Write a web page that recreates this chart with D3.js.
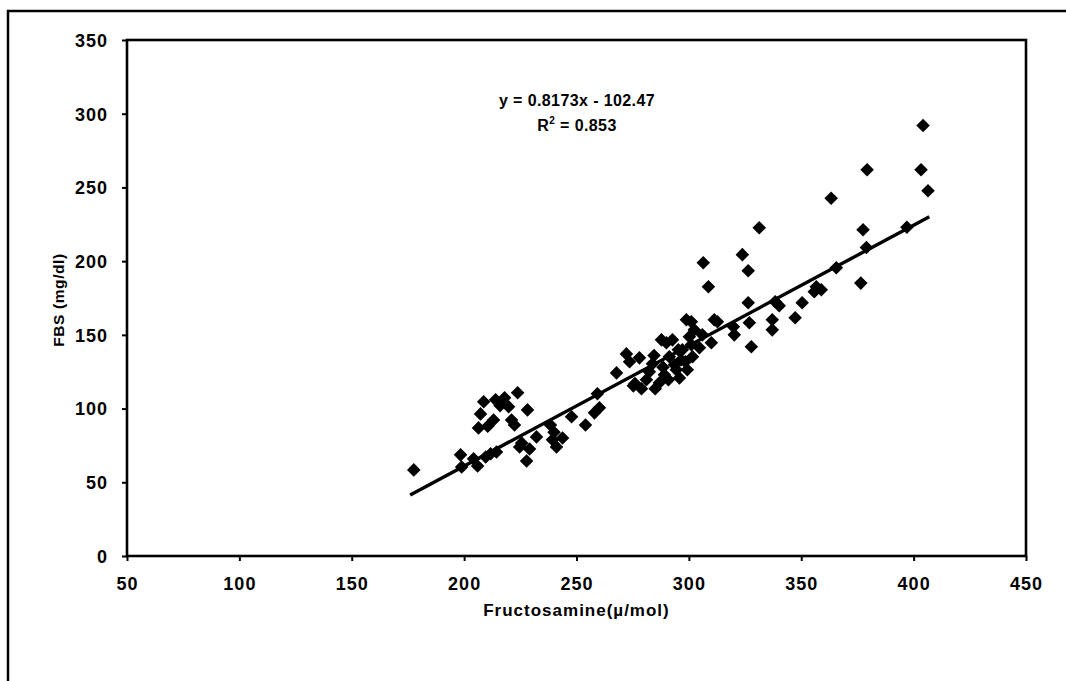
<!DOCTYPE html>
<html>
<head>
<meta charset="utf-8">
<script src="https://cdn.jsdelivr.net/npm/d3@7"></script>
<style>
  html, body { margin: 0; padding: 0; background: #fff; }
  svg { display: block; }
  text { font-family: "Liberation Sans", Arial, sans-serif; font-weight: bold; fill: #000; }
</style>
</head>
<body>
<svg id="chart" width="1066" height="681"></svg>
<script>
// ---- data ----
const fructosamine = [
  177.6, 198.4, 198.9, 204.2, 206.0, 209.6, 211.8, 214.4,
  206.4, 207.3, 208.7, 213.1, 214.0, 218.0, 219.8, 221.1, 223.8, 222.4, 228.2,
  224.7, 225.6, 227.8, 229.1, 232.2, 238.4, 239.3, 241.1, 243.8, 247.8, 254.0, 258.0, 259.3, 260.2,
  267.8, 272.2, 273.6, 275.3, 278.0, 278.9, 281.1, 282.4, 283.8, 286.9, 287.8, 289.1, 290.0, 290.9,
  291.3, 292.7, 293.6, 294.4, 295.3, 295.8, 297.1, 298.4, 299.3, 300.2, 301.1, 301.6, 302.4, 298.9,
  301.1, 304.7, 306.0, 306.4, 308.7, 310.0, 311.3, 312.7, 319.8, 320.2, 323.8, 326.4, 326.4, 326.9,
  327.8, 337.1, 337.1, 338.4, 340.2, 347.3, 350.4, 356.7, 355.8, 358.9, 365.6, 331.3,
  404.2, 379.3, 403.3, 406.4, 363.3, 377.5, 397.0, 379.0, 376.5,
  285.0, 288.5, 296.5, 284.5, 276.0, 240.0, 210.5, 216.0
];
const fbs = [
  58.4, 68.6, 60.4, 65.9, 61.1, 67.2, 69.3, 70.6,
  86.9, 96.4, 104.6, 92.3, 105.9, 107.3, 101.2, 92.3, 110.7, 88.9, 99.1,
  74.0, 76.7, 64.5, 72.6, 80.8, 88.9, 78.8, 74.0, 80.1, 94.4, 88.9, 97.1, 110.0, 100.5,
  124.2, 137.1, 131.7, 115.4, 134.4, 113.4, 119.5, 124.9, 130.4, 117.5, 146.6, 122.9, 144.6, 119.5,
  135.1, 146.6, 129.7, 126.3, 139.9, 120.8, 139.9, 131.7, 126.3, 148.7, 143.3, 135.1, 153.4, 160.2,
  158.9, 141.2, 150.0, 198.9, 182.6, 144.6, 160.2, 158.9, 155.5, 150.0, 204.4, 193.5, 171.8, 158.2,
  141.9, 160.2, 153.4, 172.4, 169.7, 161.6, 171.8, 182.6, 179.2, 180.6, 195.5, 222.7,
  292.0, 262.0, 262.0, 247.8, 242.6, 221.3, 223.0, 209.3, 185.1,
  113.5, 128.0, 133.0, 136.0, 117.0, 84.0, 88.0, 102.0
];
const xTicks = [50, 100, 150, 200, 250, 300, 350, 400, 450];
const yTicks = [0, 50, 100, 150, 200, 250, 300, 350];
const trendSlope = [0.8173];
const trendIntercept = [-102.47];
const trendRange = [176, 407];
const equationText = ["y = 0.8173x - 102.47"];
const r2Text = ["0.853"];
const xTitle = "Fructosamine(µ/mol)";
const yTitle = "FBS (mg/dl)";

// ---- layout ----
const svg = d3.select("#chart");
const L = 127, R = 1026, T = 40, B = 556;
const x = d3.scaleLinear().domain([50, 450]).range([L, R]);
const y = d3.scaleLinear().domain([0, 350]).range([B, T]);

// outer frame (partially visible in the scan)
svg.append("path")
  .attr("d", `M8,681 L8,11 L1066,11`)
  .attr("fill", "none").attr("stroke", "#000").attr("stroke-width", 2.5);

// plot frame
svg.append("rect")
  .attr("x", L).attr("y", T).attr("width", R - L).attr("height", B - T)
  .attr("fill", "none").attr("stroke", "#000").attr("stroke-width", 2.6);

// axes
const xAxis = svg.append("g").attr("transform", `translate(0,${B})`)
  .call(d3.axisBottom(x).tickValues(xTicks).tickSize(5).tickPadding(16).tickFormat(d3.format("d")));
const yAxis = svg.append("g").attr("transform", `translate(${L},0)`)
  .call(d3.axisLeft(y).tickValues(yTicks).tickSize(5).tickPadding(14).tickFormat(d3.format("d")));
[xAxis, yAxis].forEach(g => {
  g.select(".domain").remove();
  g.selectAll(".tick line").attr("stroke", "#000").attr("stroke-width", 2);
  g.selectAll(".tick text")
    .attr("font-family", "'Liberation Sans', Arial, sans-serif")
    .attr("font-weight", "bold")
    .attr("font-size", 18)
    .attr("letter-spacing", 1)
    .attr("fill", "#000");
});
yAxis.selectAll(".tick text").attr("dy", "0.35em");

// axis titles
svg.append("text")
  .attr("x", (L + R) / 2).attr("y", 616)
  .attr("text-anchor", "middle")
  .attr("font-size", 17).attr("letter-spacing", 1)
  .text(xTitle);
svg.append("text")
  .attr("transform", `translate(64,${(T + B) / 2 + 2}) rotate(-90)`)
  .attr("text-anchor", "middle")
  .attr("font-size", 15.5).attr("letter-spacing", 0.6)
  .text(yTitle);

// trend line
const trendData = trendRange.map(v => ({ x: v, y: trendSlope[0] * v + trendIntercept[0] }));
svg.append("path")
  .datum(trendData)
  .attr("d", d3.line().x(d => x(d.x)).y(d => y(d.y)))
  .attr("fill", "none").attr("stroke", "#000").attr("stroke-width", 3.4);

// points (rotated squares = diamonds)
const pts = fructosamine.map((v, i) => ({ x: v, y: fbs[i] }));
const sym = d3.symbol().type(d3.symbolSquare).size(92);
svg.append("g").selectAll("path")
  .data(pts).join("path")
  .attr("d", sym)
  .attr("transform", d => `translate(${x(d.x)},${y(d.y)}) rotate(45)`)
  .attr("fill", "#000");

// equation
svg.append("text")
  .attr("x", 577).attr("y", 106)
  .attr("text-anchor", "middle")
  .attr("font-size", 16).attr("letter-spacing", 0.4)
  .text(equationText[0]);
const r2 = svg.append("text")
  .attr("x", 577).attr("y", 131)
  .attr("text-anchor", "middle")
  .attr("font-size", 16).attr("letter-spacing", 0.4);
r2.append("tspan").text("R");
r2.append("tspan").attr("font-size", 10).attr("dy", -7).text("2");
r2.append("tspan").attr("dy", 7).text(" = " + r2Text[0]);
</script>
</body>
</html>
